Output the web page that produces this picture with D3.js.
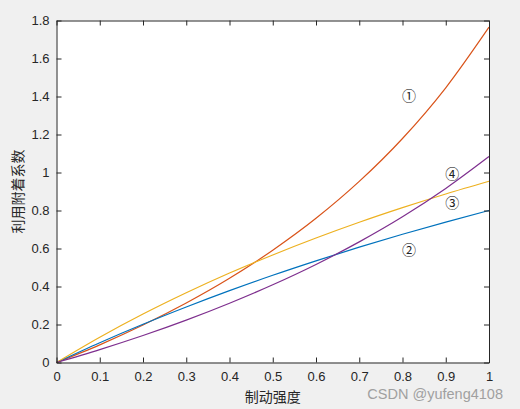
<!DOCTYPE html>
<html><head>
<meta charset="UTF-8">
<script src="https://cdnjs.cloudflare.com/ajax/libs/d3/7.8.5/d3.min.js"></script>
<style>
  body { margin: 0; background: #f0f0f0; }
  svg { display: block; }
  .tick text { font-family: "Liberation Sans", Arial, sans-serif; font-size: 13px; fill: #262626; }
</style>
</head>
<body>
<svg id="chart" width="520" height="409"></svg>
<script>
// braking intensity z
const zValues = [0, 0.1, 0.2, 0.3, 0.4, 0.5, 0.6, 0.7, 0.8, 0.9, 1.0];
// utilised adhesion coefficient
const curve1 = [0, 0.093, 0.197, 0.313, 0.443, 0.591, 0.759, 0.953, 1.179, 1.446, 1.765];
const curve2 = [0, 0.104, 0.201, 0.292, 0.378, 0.459, 0.535, 0.607, 0.675, 0.739, 0.800];
const curve3 = [0, 0.133, 0.255, 0.367, 0.471, 0.566, 0.655, 0.738, 0.815, 0.887, 0.954];
const curve4 = [0, 0.068, 0.142, 0.223, 0.312, 0.409, 0.516, 0.635, 0.767, 0.916, 1.084];
const seriesColors = ["#D95319", "#0072BD", "#EDB120", "#7E2F8E"];
const labelText = ["①", "②", "③", "④"];
const labelX = [0.815, 0.815, 0.915, 0.915];
const labelY = [1.4, 0.59, 0.84, 0.99];
const xTicks = [0, 0.1, 0.2, 0.3, 0.4, 0.5, 0.6, 0.7, 0.8, 0.9, 1];
const yTicks = [0, 0.2, 0.4, 0.6, 0.8, 1, 1.2, 1.4, 1.6, 1.8];

const svg = d3.select("#chart");
const plotL = 56.5, plotR = 489, plotT = 20.5, plotB = 362.5;

const x = d3.scaleLinear().domain([0, 1]).range([plotL, plotR]);
const y = d3.scaleLinear().domain([0, 1.8]).range([plotB, plotT]);

svg.append("rect")
  .attr("x", plotL).attr("y", plotT)
  .attr("width", plotR - plotL).attr("height", plotB - plotT)
  .attr("fill", "#fff");

// curves
const line = d3.line()
  .x(d => x(d[0]))
  .y(d => y(d[1]))
  .curve(d3.curveMonotoneX);

[curve1, curve2, curve3, curve4].forEach((vals, i) => {
  svg.append("path")
    .datum(zValues.map((z, k) => [z, vals[k]]))
    .attr("d", line)
    .attr("fill", "none")
    .attr("stroke", seriesColors[i])
    .attr("stroke-width", 1.2);
});

// circled labels
labelText.forEach((t, i) => {
  svg.append("text")
    .attr("x", x(labelX[i]))
    .attr("y", y(labelY[i]))
    .attr("dy", "0.35em")
    .attr("text-anchor", "middle")
    .attr("font-family", "'Noto Sans CJK SC', 'DejaVu Serif', serif")
    .attr("font-size", 14)
    .attr("fill", "#222")
    .text(t);
});

// axes, ticks point inward like matlab
const fmt = d => String(d);
const axStyle = g => {
  g.select(".domain").attr("stroke", "#262626");
  g.selectAll(".tick line").attr("stroke", "#262626");
};

svg.append("g")
  .attr("transform", `translate(0,${plotB})`)
  .call(d3.axisBottom(x).tickValues(xTicks).tickFormat(fmt).tickSizeInner(-5).tickSizeOuter(0).tickPadding(9))
  .call(axStyle);

svg.append("g")
  .attr("transform", `translate(0,${plotT})`)
  .call(d3.axisTop(x).tickValues(xTicks).tickFormat("").tickSizeInner(-5).tickSizeOuter(0))
  .call(axStyle);

svg.append("g")
  .attr("transform", `translate(${plotL},0)`)
  .call(d3.axisLeft(y).tickValues(yTicks).tickFormat(fmt).tickSizeInner(-5).tickSizeOuter(0).tickPadding(7))
  .call(axStyle);

svg.append("g")
  .attr("transform", `translate(${plotR},0)`)
  .call(d3.axisRight(y).tickValues(yTicks).tickFormat("").tickSizeInner(-5).tickSizeOuter(0))
  .call(axStyle);

// axis titles
svg.append("text")
  .attr("x", (plotL + plotR) / 2)
  .attr("y", 402)
  .attr("text-anchor", "middle")
  .attr("font-family", "'Noto Sans CJK SC', sans-serif")
  .attr("font-size", 14)
  .attr("fill", "#262626")
  .text("制动强度");

svg.append("text")
  .attr("transform", `translate(23,${(plotT + plotB) / 2}) rotate(-90)`)
  .attr("text-anchor", "middle")
  .attr("font-family", "'Noto Sans CJK SC', sans-serif")
  .attr("font-size", 14)
  .attr("fill", "#262626")
  .text("利用附着系数");

// watermark
svg.append("text")
  .attr("x", 503)
  .attr("y", 399)
  .attr("text-anchor", "end")
  .attr("font-family", "'Liberation Sans', Arial, sans-serif")
  .attr("font-size", 14.5)
  .attr("fill", "#a0a0a0")
  .text("CSDN @yufeng4108");
</script>
</body>
</html>
